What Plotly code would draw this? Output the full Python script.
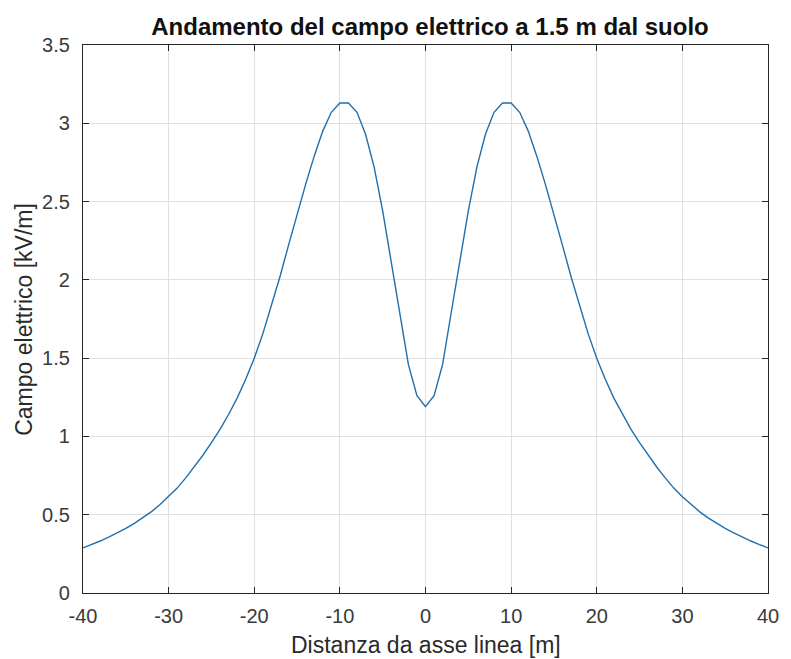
import plotly.graph_objects as go

# Distance from the line axis [m]
distanza = list(range(-40, 41))

# Electric field at 1.5 m above ground [kV/m]
campo = [
    0.288, 0.309, 0.332, 0.357, 0.384, 0.413, 0.445, 0.480, 0.520, 0.565,
    0.615, 0.670, 0.735, 0.805, 0.880, 0.960, 1.045, 1.140, 1.245, 1.365,
    1.500, 1.655, 1.830, 2.020, 2.220, 2.420, 2.610, 2.790, 2.950, 3.070,
    3.130, 3.130, 3.070, 2.930, 2.720, 2.440, 2.110, 1.790, 1.460, 1.260,
    1.190,
    1.260, 1.460, 1.790, 2.110, 2.440, 2.720, 2.930, 3.070, 3.130, 3.130,
    3.070, 2.950, 2.790, 2.610, 2.420, 2.220, 2.020, 1.830, 1.655, 1.500,
    1.365, 1.245, 1.140, 1.045, 0.960, 0.880, 0.805, 0.735, 0.670, 0.615,
    0.565, 0.520, 0.480, 0.445, 0.413, 0.384, 0.357, 0.332, 0.309, 0.288,
]

x_ticks = [-40, -30, -20, -10, 0, 10, 20, 30, 40]
x_tick_labels = ["-40", "-30", "-20", "-10", "0", "10", "20", "30", "40"]
y_ticks = [0, 0.5, 1, 1.5, 2, 2.5, 3, 3.5]
y_tick_labels = ["0", "0.5", "1", "1.5", "2", "2.5", "3", "3.5"]

AXIS = "#262626"
GRID = "#e0e0e0"
FONT = "Liberation Sans, Arial, sans-serif"

# plot area in pixels
L, R, T, B = 83, 777, 45, 593
W, H = 791, 659

fig = go.Figure()
fig.add_trace(go.Scatter(
    x=distanza, y=campo, mode="lines",
    line=dict(color="#1f6fae", width=1.4),
    hoverinfo="x+y", showlegend=False,
))

axis_common = dict(
    showline=True, linecolor=AXIS, linewidth=1.2, mirror="ticks",
    ticks="inside", ticklen=6, tickcolor=AXIS, tickwidth=1,
    showgrid=True, gridcolor=GRID, gridwidth=1, zeroline=False,
    tickfont=dict(family=FONT, size=20, color="#3a3a3a"),
)

fig.update_xaxes(
    range=[-40, 40], tickvals=x_ticks, ticktext=x_tick_labels,
    ticklabelstandoff=5, **axis_common,
)
fig.update_yaxes(
    range=[0, 3.5], tickvals=y_ticks, ticktext=y_tick_labels,
    ticklabelstandoff=8, **axis_common,
)

label_font = dict(family=FONT, size=23, color="#2a2a2a")
fig.add_annotation(
    text="Distanza da asse linea [m]", showarrow=False,
    xref="paper", yref="paper",
    x=0.5, y=(B - 645) / (B - T), xanchor="center", yanchor="middle",
    font=label_font,
)
fig.add_annotation(
    text="Campo elettrico [kV/m]", showarrow=False, textangle=-90,
    xref="paper", yref="paper",
    x=(23 - L) / (R - L), y=0.5, xanchor="center", yanchor="middle",
    font=label_font,
)

fig.update_layout(
    width=W, height=H,
    margin=dict(l=L, r=W - R, t=T, b=H - B),
    paper_bgcolor="white", plot_bgcolor="white",
    title=dict(
        text="<b>Andamento del campo elettrico a 1.5 m dal suolo</b>",
        font=dict(family=FONT, size=24, color="#111111"),
        x=(L + R) / 2 / W, xanchor="center",
        y=1 - 27 / H, yanchor="middle", yref="container",
    ),
)

fig.write_html("out.html")
